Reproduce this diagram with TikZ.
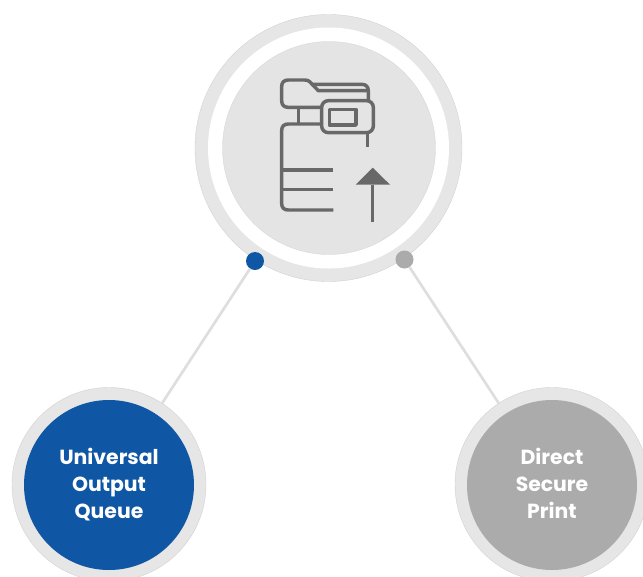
\documentclass[tikz,border=0pt]{standalone}
\usepackage{fontspec}
\setmainfont{Poppins}
\definecolor{ringgray}{HTML}{E6E6E6}
\definecolor{edgegray}{HTML}{D2D2D2}
\definecolor{discgray}{HTML}{E4E4E4}
\definecolor{iconcol}{HTML}{686868}
\definecolor{bluefill}{HTML}{0F57A5}
\definecolor{grayfill}{HTML}{ABABAB}
\definecolor{linkcol}{HTML}{DEDEDE}
\tikzset{
  px/.style={x=0.75pt,y=-0.75pt},
  disc/.style={circle,inner sep=0pt,outer sep=0pt,minimum size=#1*1.5pt},
  ringdisc/.style={disc=#1,fill=ringgray,draw=edgegray,line width=0.3pt},
  hole/.style={disc=#1,fill=white},
  hubdisc/.style={disc=#1,fill=discgray,draw=edgegray,line width=0.2pt},
  dotnode/.style={disc=9},
  link/.style={draw=linkcol,line width=2pt},
  label/.style={disc=85,text=white,align=center,font=\fontsize{15.3}{20.25}\selectfont\bfseries},
  icon/.style={draw=iconcol,line width=2.6pt,line join=round}
}
\begin{document}
\begin{tikzpicture}[px]
\clip (0,0) rectangle (643,576);
\fill[white] (0,0) rectangle (643,576);
% hub
\node[ringdisc=133.5] (hubout) at (328.5,148) {};
\node[hole=120.5] (hubhole) at (328.5,148) {};
\node[hubdisc=106.5] (hub) at (329,148) {};
% outer circles
\node[ringdisc=97] (leftout) at (109,484.5) {};
\node[ringdisc=97] (rightout) at (552,484.5) {};
% dots
\node[dotnode,fill=bluefill] (dotb) at (255,261) {};
\node[dotnode,fill=grayfill] (dotg) at (404.5,259.5) {};
% connectors
\draw[link] (dotb) -- (leftout);
\draw[link] (dotg) -- (rightout);
% labels
\node[label,fill=bluefill] (uoq) at (109,485) {Universal\\Output\\Queue};
\node[label,fill=grayfill] (dsp) at (552,485) {Direct\\Secure\\Print\rule[-3pt]{0pt}{1pt}};
% printer icon (zoom coordinates)
\begin{scope}[shift={(190,0)},x=0.25pt,y=-0.25pt]
  \draw[icon] (395,322) -- (295,322) .. controls (282,322) and (275,315) .. (275,302)
    -- (275,260) .. controls (275,247) and (282,240) .. (295,240)
    -- (345,240) .. controls (352,240) and (356,242) .. (360,246)
    -- (385,272) -- (535,272);
  \draw[icon] (365,253) -- (515,253) .. controls (528,253) and (535,260) .. (535,273) -- (535,302);
  \draw[icon,rounded corners=5pt] (395,302) rectangle (550,398);
  \draw[icon] (418,328) rectangle (498,375);
  \draw[icon] (325,322) -- (325,372);
  \draw[icon] (395,372) -- (295,372) .. controls (282,372) and (275,379) .. (275,392)
    -- (275,610) .. controls (275,623) and (282,630) .. (295,630) -- (430,630);
  \draw[icon] (275,510) -- (430,510);
  \draw[icon] (275,568) -- (430,568);
  \draw[icon] (533,398) -- (533,440);
  \fill[iconcol] (497,554) -- (548,503) -- (600,554) -- cycle;
  \draw[icon] (547,554) -- (547,665);
\end{scope}
\end{tikzpicture}
\end{document}
